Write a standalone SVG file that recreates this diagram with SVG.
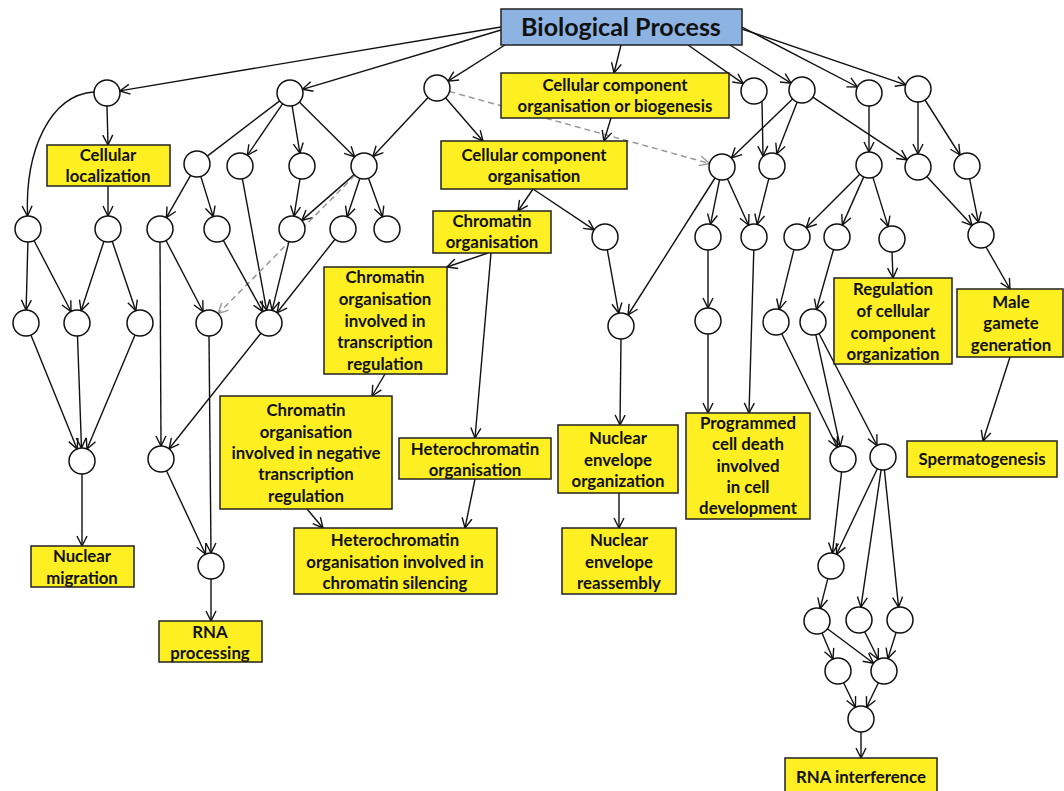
<svg xmlns="http://www.w3.org/2000/svg" width="1064" height="791" viewBox="0 0 1064 791">
<defs>
<marker id="a" viewBox="0 0 12 12" refX="11" refY="6" markerWidth="12" markerHeight="12" markerUnits="userSpaceOnUse" orient="auto"><path d="M1,1 L11,6 L1,11" fill="none" stroke="#111" stroke-width="1.4"/></marker>
<marker id="g" viewBox="0 0 12 12" refX="11" refY="6" markerWidth="12" markerHeight="12" markerUnits="userSpaceOnUse" orient="auto"><path d="M1,1 L11,6 L1,11" fill="none" stroke="#999" stroke-width="1.4"/></marker>
<style>
.e{stroke:#111;stroke-width:1.4;fill:none;marker-end:url(#a)}
.n{stroke:#111;stroke-width:1.4;fill:none}
.d{stroke:#999;stroke-width:1.5;fill:none;stroke-dasharray:6,4;marker-end:url(#g)}
.c{fill:#fff;stroke:#111;stroke-width:1.5}
.b{fill:#FDEF22;stroke:#222;stroke-width:1.5}
.bp{fill:#8DB3E2;stroke:#222;stroke-width:1.5}
text{font-family:Lato,"Liberation Sans",sans-serif;font-weight:bold;font-size:16.8px;fill:#111;text-anchor:middle}
.t{font-size:25px}
</style>
</defs>
<rect width="1064" height="791" fill="#fff"/>
<g id="connectors">
<line class="e" x1="501" y1="27" x2="119.8" y2="90.9"/>
<line class="e" x1="501" y1="30" x2="302.5" y2="89.3"/>
<line class="e" x1="505" y1="45" x2="448" y2="81.1"/>
<line class="e" x1="621" y1="45" x2="614" y2="73"/>
<line class="e" x1="688" y1="45" x2="743.3" y2="83.6"/>
<line class="e" x1="730" y1="45" x2="791" y2="83.1"/>
<line class="e" x1="742" y1="27" x2="857.5" y2="87"/>
<line class="e" x1="742" y1="29" x2="905.7" y2="84.8"/>
<line class="e" x1="107" y1="106" x2="108" y2="145"/>
<path class="e" d="M94,92 C50,95 25,150 27.5,216"/>
<line class="e" x1="108" y1="186" x2="108" y2="216"/>
<line class="n" x1="279.7" y1="100.9" x2="207.3" y2="156.1"/>
<line class="e" x1="282.7" y1="103.7" x2="247.3" y2="155.3"/>
<line class="e" x1="292.1" y1="105.8" x2="299.9" y2="153.2"/>
<line class="e" x1="299.3" y1="102.1" x2="354.7" y2="156.9"/>
<line class="e" x1="190.6" y1="175.3" x2="166.4" y2="217.7"/>
<line class="e" x1="200.8" y1="176.4" x2="213.2" y2="216.6"/>
<line class="e" x1="242.4" y1="178.8" x2="266.6" y2="310.2"/>
<line class="e" x1="300" y1="178.8" x2="294" y2="216.2"/>
<line class="e" x1="354.2" y1="174.6" x2="301.8" y2="220.4"/>
<line class="e" x1="359.9" y1="178.3" x2="347.1" y2="216.7"/>
<line class="e" x1="368.5" y1="178.2" x2="382.5" y2="216.8"/>
<line class="d" x1="354.9" y1="175.3" x2="218.1" y2="313.7"/>
<line class="e" x1="27.9" y1="242" x2="26.1" y2="310"/>
<line class="e" x1="34" y1="240.5" x2="71" y2="311.5"/>
<line class="e" x1="103.9" y1="241.3" x2="81.1" y2="310.7"/>
<line class="e" x1="112.2" y1="241.3" x2="135.8" y2="310.7"/>
<line class="e" x1="166" y1="240.5" x2="203" y2="311.5"/>
<line class="e" x1="160" y1="242" x2="161" y2="446"/>
<line class="e" x1="223.3" y1="240.4" x2="262.7" y2="311.6"/>
<line class="e" x1="288.9" y1="241.6" x2="272.1" y2="310.4"/>
<line class="e" x1="335" y1="239.2" x2="277" y2="312.8"/>
<line class="e" x1="30.9" y1="335" x2="77.1" y2="449"/>
<line class="e" x1="77.5" y1="336" x2="81.5" y2="448"/>
<line class="e" x1="135" y1="335" x2="87" y2="449"/>
<line class="e" x1="82" y1="474" x2="82" y2="546"/>
<line class="e" x1="260.9" y1="333.2" x2="169.1" y2="448.8"/>
<line class="e" x1="166.5" y1="470.8" x2="205.5" y2="554.2"/>
<line class="e" x1="209" y1="336" x2="211" y2="553"/>
<line class="e" x1="211" y1="579" x2="211" y2="621"/>
<line class="e" x1="428.1" y1="97.5" x2="372.9" y2="156.5"/>
<line class="e" x1="445.5" y1="97.8" x2="483" y2="141"/>
<line class="d" x1="449.5" y1="91.5" x2="709.5" y2="163.5"/>
<line class="e" x1="611" y1="118" x2="604" y2="141"/>
<line class="e" x1="533" y1="189" x2="518" y2="211"/>
<line class="e" x1="533" y1="189" x2="594.2" y2="229.8"/>
<line class="e" x1="488" y1="253" x2="447" y2="267"/>
<line class="e" x1="491" y1="253" x2="475" y2="438"/>
<line class="e" x1="385" y1="374" x2="372" y2="396"/>
<line class="e" x1="307" y1="509" x2="323" y2="528"/>
<line class="e" x1="475" y1="479" x2="465" y2="528"/>
<line class="e" x1="607.3" y1="249.8" x2="618.7" y2="313.2"/>
<line class="e" x1="715" y1="178" x2="628" y2="315"/>
<line class="e" x1="719.5" y1="179.8" x2="710.5" y2="224.3"/>
<line class="e" x1="727.4" y1="178.8" x2="748.6" y2="225.2"/>
<line class="e" x1="621" y1="339" x2="620" y2="425"/>
<line class="e" x1="619" y1="493" x2="619" y2="528"/>
<line class="e" x1="762" y1="101" x2="763" y2="156"/>
<line class="e" x1="792.6" y1="99" x2="731.4" y2="158"/>
<line class="e" x1="797.2" y1="102.1" x2="776.8" y2="153.9"/>
<line class="e" x1="812.8" y1="97.2" x2="907.2" y2="159.8"/>
<line class="e" x1="869" y1="106" x2="869" y2="152"/>
<line class="e" x1="918" y1="102" x2="918" y2="154"/>
<line class="e" x1="925" y1="100" x2="960" y2="155"/>
<line class="e" x1="768.8" y1="178.6" x2="757.2" y2="224.4"/>
<line class="e" x1="859.8" y1="174.2" x2="806.2" y2="227.8"/>
<line class="e" x1="863.7" y1="176.9" x2="842.3" y2="225.1"/>
<line class="e" x1="872.9" y1="177.4" x2="888.1" y2="226.6"/>
<line class="e" x1="926.8" y1="176.5" x2="972.2" y2="225.5"/>
<line class="e" x1="969.6" y1="178.7" x2="978.4" y2="222.3"/>
<line class="e" x1="708" y1="250" x2="708" y2="308"/>
<line class="e" x1="753.8" y1="250" x2="749" y2="413"/>
<line class="e" x1="708" y1="334" x2="708" y2="413"/>
<line class="e" x1="793.9" y1="249.6" x2="779.1" y2="309.4"/>
<line class="e" x1="833.5" y1="249.5" x2="816.5" y2="309.5"/>
<line class="e" x1="892" y1="252" x2="893" y2="278"/>
<line class="e" x1="986" y1="247" x2="1010" y2="289"/>
<line class="e" x1="1010" y1="357" x2="983" y2="441"/>
<line class="e" x1="781.7" y1="333.7" x2="837.3" y2="447.3"/>
<line class="e" x1="815.8" y1="334.7" x2="840.2" y2="446.3"/>
<line class="e" x1="819" y1="333.5" x2="877" y2="445.5"/>
<line class="e" x1="841.6" y1="471.9" x2="832.4" y2="553.1"/>
<line class="e" x1="877.4" y1="468.7" x2="836.6" y2="554.3"/>
<line class="e" x1="881.1" y1="469.9" x2="860.9" y2="607.1"/>
<line class="e" x1="884.4" y1="469.9" x2="898.6" y2="607.1"/>
<line class="e" x1="827.8" y1="578.6" x2="820.2" y2="608.4"/>
<line class="e" x1="822" y1="633" x2="833" y2="659"/>
<line class="e" x1="827.4" y1="628.8" x2="873.6" y2="663.2"/>
<line class="e" x1="864.7" y1="631.7" x2="878.3" y2="659.3"/>
<line class="e" x1="896.1" y1="632.4" x2="887.9" y2="658.6"/>
<line class="e" x1="843.6" y1="682.7" x2="855.4" y2="707.3"/>
<line class="e" x1="878.4" y1="682.7" x2="866.6" y2="707.3"/>
<line class="e" x1="861" y1="732" x2="861" y2="758"/>
</g>
<g id="biological-process"><rect class="bp" x="501" y="9" width="241" height="36"/><text class="t" x="621" y="36">Biological Process</text></g>
<g id="cc-org-biogenesis"><rect class="b" x="501" y="73" width="228" height="45"/><text x="615" y="91">Cellular component</text><text x="615" y="112">organisation or biogenesis</text></g>
<g id="cellular-localization"><rect class="b" x="47" y="145" width="123" height="41"/><text x="108" y="161">Cellular</text><text x="108" y="182">localization</text></g>
<g id="cc-org"><rect class="b" x="441" y="141" width="186" height="48"/><text x="534" y="161">Cellular component</text><text x="534" y="182">organisation</text></g>
<g id="chromatin-org"><rect class="b" x="433" y="211" width="118" height="42"/><text x="492" y="227">Chromatin</text><text x="492" y="248">organisation</text></g>
<g id="chromatin-tr"><rect class="b" x="324" y="267" width="123" height="107"/><text x="385" y="283">Chromatin</text><text x="385" y="305">organisation</text><text x="385" y="327">involved in</text><text x="385" y="348">transcription</text><text x="385" y="370">regulation</text></g>
<g id="chromatin-neg"><rect class="b" x="220" y="396" width="172" height="113"/><text x="306" y="416">Chromatin</text><text x="306" y="438">organisation</text><text x="306" y="459">involved in negative</text><text x="306" y="480">transcription</text><text x="306" y="502">regulation</text></g>
<g id="heterochromatin-org"><rect class="b" x="399" y="438" width="152" height="41"/><text x="475" y="455">Heterochromatin</text><text x="475" y="476">organisation</text></g>
<g id="heterochromatin-silencing"><rect class="b" x="294" y="528" width="203" height="66"/><text x="395" y="546">Heterochromatin</text><text x="395" y="568">organisation involved in</text><text x="395" y="589">chromatin silencing</text></g>
<g id="nuclear-envelope-org"><rect class="b" x="558" y="425" width="120" height="68"/><text x="618" y="444">Nuclear</text><text x="618" y="466">envelope</text><text x="618" y="487">organization</text></g>
<g id="nuclear-envelope-reassembly"><rect class="b" x="562" y="528" width="114" height="66"/><text x="619" y="546">Nuclear</text><text x="619" y="568">envelope</text><text x="619" y="589">reassembly</text></g>
<g id="programmed-cell-death"><rect class="b" x="686" y="413" width="124" height="106"/><text x="748" y="429">Programmed</text><text x="748" y="450">cell death</text><text x="748" y="472">involved</text><text x="748" y="493">in cell</text><text x="748" y="514">development</text></g>
<g id="regulation-cc-org"><rect class="b" x="834" y="278" width="118" height="86"/><text x="893" y="295">Regulation</text><text x="893" y="317">of cellular</text><text x="893" y="339">component</text><text x="893" y="360">organization</text></g>
<g id="male-gamete"><rect class="b" x="957" y="289" width="106" height="68"/><text x="1011" y="308">Male</text><text x="1011" y="329">gamete</text><text x="1011" y="351">generation</text></g>
<g id="spermatogenesis"><rect class="b" x="907" y="441" width="150" height="36"/><text x="982" y="465">Spermatogenesis</text></g>
<g id="nuclear-migration"><rect class="b" x="31" y="546" width="103" height="41"/><text x="82" y="562">Nuclear</text><text x="82" y="584">migration</text></g>
<g id="rna-processing"><rect class="b" x="159" y="621" width="103" height="41"/><text x="210" y="638">RNA</text><text x="210" y="659">processing</text></g>
<g id="rna-interference"><rect class="b" x="785" y="758" width="152" height="40"/><text x="861" y="783">RNA interference</text></g>
<g id="circles">
<circle id="A1" class="c" cx="107" cy="93" r="13"/>
<circle id="A2" class="c" cx="290" cy="93" r="13"/>
<circle id="A3" class="c" cx="437" cy="88" r="13"/>
<circle id="A4" class="c" cx="754" cy="91" r="13"/>
<circle id="A5" class="c" cx="802" cy="90" r="13"/>
<circle id="A6" class="c" cx="869" cy="93" r="13"/>
<circle id="A7" class="c" cx="918" cy="89" r="13"/>
<circle id="B1" class="c" cx="197" cy="164" r="13"/>
<circle id="B2" class="c" cx="240" cy="166" r="13"/>
<circle id="B3" class="c" cx="302" cy="166" r="13"/>
<circle id="B4" class="c" cx="364" cy="166" r="13"/>
<circle id="B5" class="c" cx="722" cy="167" r="13"/>
<circle id="B6" class="c" cx="772" cy="166" r="13"/>
<circle id="B7" class="c" cx="869" cy="165" r="13"/>
<circle id="B8" class="c" cx="918" cy="167" r="13"/>
<circle id="B9" class="c" cx="967" cy="166" r="13"/>
<circle id="C1" class="c" cx="28" cy="229" r="13"/>
<circle id="C2" class="c" cx="108" cy="229" r="13"/>
<circle id="C3" class="c" cx="160" cy="229" r="13"/>
<circle id="C4" class="c" cx="217" cy="229" r="13"/>
<circle id="C5" class="c" cx="292" cy="229" r="13"/>
<circle id="C6" class="c" cx="343" cy="229" r="13"/>
<circle id="C7" class="c" cx="387" cy="229" r="13"/>
<circle id="C8" class="c" cx="605" cy="237" r="13"/>
<circle id="C9" class="c" cx="708" cy="237" r="13"/>
<circle id="C10" class="c" cx="754" cy="237" r="13"/>
<circle id="C11" class="c" cx="797" cy="237" r="13"/>
<circle id="C12" class="c" cx="837" cy="237" r="13"/>
<circle id="C13" class="c" cx="892" cy="239" r="13"/>
<circle id="C14" class="c" cx="981" cy="235" r="13"/>
<circle id="D1" class="c" cx="26" cy="323" r="13"/>
<circle id="D2" class="c" cx="77" cy="323" r="13"/>
<circle id="D3" class="c" cx="140" cy="323" r="13"/>
<circle id="D4" class="c" cx="209" cy="323" r="13"/>
<circle id="D5" class="c" cx="269" cy="323" r="13"/>
<circle id="D6" class="c" cx="621" cy="326" r="13"/>
<circle id="D7" class="c" cx="708" cy="321" r="13"/>
<circle id="D8" class="c" cx="776" cy="322" r="13"/>
<circle id="D9" class="c" cx="813" cy="322" r="13"/>
<circle id="E1" class="c" cx="82" cy="461" r="13"/>
<circle id="E2" class="c" cx="161" cy="459" r="13"/>
<circle id="E3" class="c" cx="843" cy="459" r="13"/>
<circle id="E4" class="c" cx="883" cy="457" r="13"/>
<circle id="F1" class="c" cx="211" cy="566" r="13"/>
<circle id="G1" class="c" cx="831" cy="566" r="13"/>
<circle id="G2" class="c" cx="817" cy="621" r="13"/>
<circle id="G3" class="c" cx="859" cy="620" r="13"/>
<circle id="G4" class="c" cx="900" cy="620" r="13"/>
<circle id="G5" class="c" cx="838" cy="671" r="13"/>
<circle id="G6" class="c" cx="884" cy="671" r="13"/>
<circle id="G7" class="c" cx="861" cy="719" r="13"/>
</g>
</svg>
